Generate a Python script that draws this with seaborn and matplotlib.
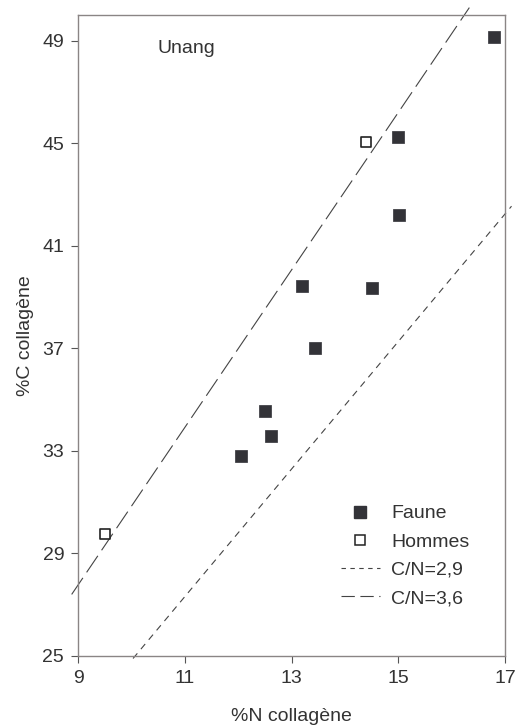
import matplotlib
matplotlib.use("Agg")
import matplotlib.pyplot as plt
from matplotlib.lines import Line2D
import seaborn as sns
import pandas as pd

# valeurs
faune_n = [16.80, 15.00, 15.01, 13.19, 14.50, 13.44, 12.51, 12.62, 12.06]
faune_c = [49.15, 45.26, 42.19, 39.45, 39.35, 37.00, 34.57, 33.60, 32.80]
hommes_n = [14.40, 9.50]
hommes_c = [45.05, 29.75]

# droites C/N (extremites)
cn29_n = [10.03, 17.12]
cn29_c = [24.9, 42.55]
cn36_n = [8.88, 16.33]
cn36_c = [27.4, 50.3]

x_ticks = [9, 11, 13, 15, 17]
y_ticks = [25, 29, 33, 37, 41, 45, 49]

sns.set_theme(style="white")
plt.rcParams['font.family'] = ['Liberation Sans', 'DejaVu Sans']

text_col = "#333333"
mark_col = "#333338"
fs = 14

fig = plt.figure(figsize=(5.17, 7.28), dpi=100)
ax = fig.add_axes([0.151, 0.099, 0.826, 0.880])

df_f = pd.DataFrame({"N": faune_n, "C": faune_c})
df_h = pd.DataFrame({"N": hommes_n, "C": hommes_c})

ax.plot(cn29_n, cn29_c, color="#444444", lw=0.8, dashes=(6, 5), clip_on=False)
ax.plot(cn36_n, cn36_c, color="#444444", lw=0.8, dashes=(18, 6), clip_on=False)

sns.scatterplot(data=df_f, x="N", y="C", marker="s", s=80, color=mark_col,
                edgecolor=mark_col, linewidth=0.5, ax=ax, clip_on=False, zorder=3)
sns.scatterplot(data=df_h, x="N", y="C", marker="s", s=50, facecolor="white",
                edgecolor="#222222", linewidth=1.2, ax=ax, clip_on=False, zorder=3)

ax.set_xlim(9, 17)
ax.set_ylim(25, 50)
ax.set_xticks(x_ticks)
ax.set_yticks(y_ticks)
ax.tick_params(direction="out", length=5, width=0.8, color="#555555",
               labelsize=fs, labelcolor=text_col, pad=5,
               left=True, bottom=True)
for sp in ax.spines.values():
    sp.set_color("#8a8585")
    sp.set_linewidth(1.0)

ax.set_xlabel("%N collagène", fontsize=fs, color=text_col, labelpad=15)
ax.set_ylabel("%C collagène", fontsize=fs, color=text_col, labelpad=6)

ax.text(0.185, 0.948, "Unang", transform=ax.transAxes, fontsize=fs,
        color=text_col, va="center")

handles = [
    Line2D([], [], marker="s", ls="none", color=mark_col, markersize=9),
    Line2D([], [], marker="s", ls="none", markerfacecolor="white",
           markeredgecolor="#222222", markersize=7.5, markeredgewidth=1.1),
    Line2D([], [], color="#444444", lw=0.8, dashes=(4, 4)),
    Line2D([], [], color="#444444", lw=0.8, dashes=(12, 5)),
]
labels = ["Faune", "Hommes", "C/N=2,9", "C/N=3,6"]
leg = ax.legend(handles, labels, loc="upper left", bbox_to_anchor=(0.615, 0.236),
                frameon=False, fontsize=fs, handlelength=2.0,
                handletextpad=0.6, labelspacing=0.55,
                borderpad=0, borderaxespad=0)
for t in leg.get_texts():
    t.set_color(text_col)

fig.savefig("out.png", dpi=100)
